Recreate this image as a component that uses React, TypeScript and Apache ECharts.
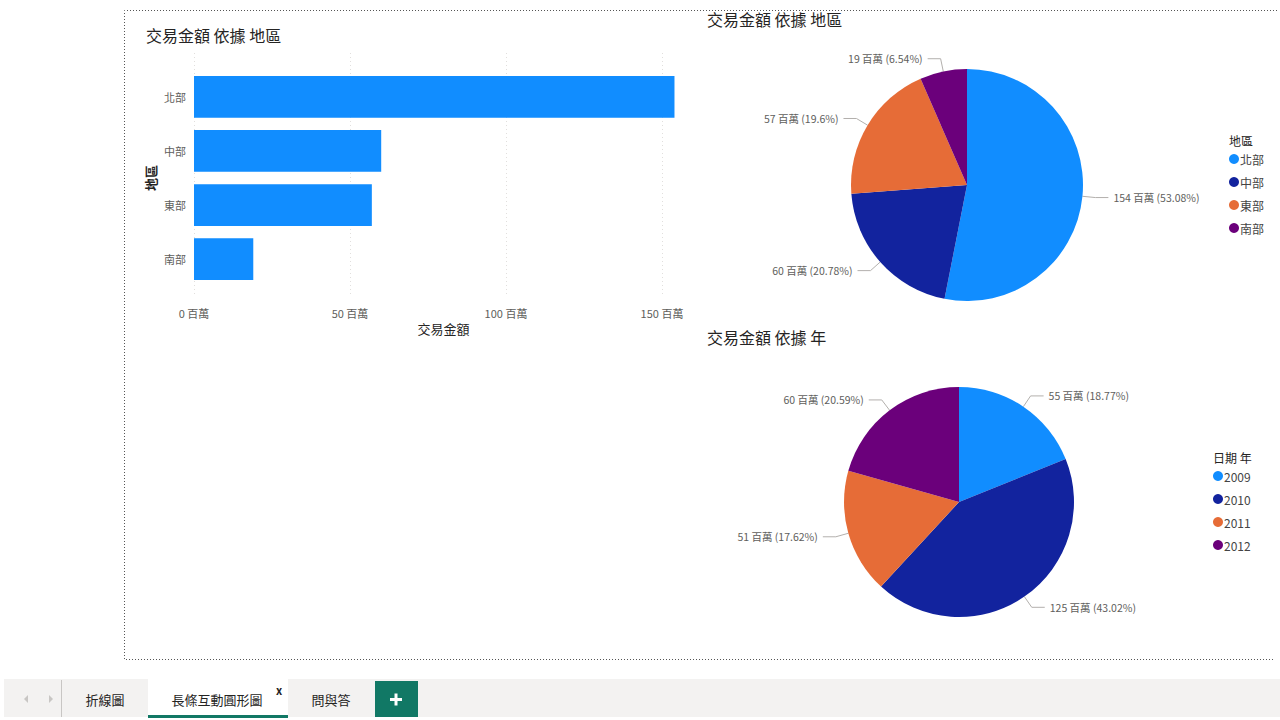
import React, { useEffect, useRef } from "react";
import * as echarts from "echarts";

const regions = ["北部", "中部", "東部", "南部"];
const regionAmounts = [154, 60, 57, 19];
const regionPercents = ["53.08", "20.78", "19.6", "6.54"];

const years = ["2009", "2010", "2011", "2012"];
const yearAmounts = [55, 125, 51, 60];
const yearPercents = ["18.77", "43.02", "17.62", "20.59"];

const xTicks = [0, 50, 100, 150];
const palette = ["#118DFF", "#12239E", "#E66C37", "#6B007B"];

const FONT = '"Noto Sans CJK TC", "Noto Sans", sans-serif';

export default function App() {
  const ref = useRef<HTMLDivElement>(null);
  useEffect(() => {
    if (!ref.current) return;
    const chart = echarts.init(ref.current, null, { renderer: "svg" });
    const pieLabel = (amounts: number[], pcts: string[]) => ({
      show: true,
      position: "outside",
      formatter: (p: any) => `${amounts[p.dataIndex]} 百萬 (${pcts[p.dataIndex]}%)`,
      fontSize: 10.5,
      color: "#605E5C",
      fontFamily: FONT,
    });
    const pieLabelLine = {
      show: true,
      length: 13,
      length2: 13,
      lineStyle: { color: "#B3B0AD", width: 1 },
    };
    const legendBase = {
      orient: "vertical",
      padding: 0,
      icon: "circle",
      itemWidth: 10,
      itemHeight: 10,
      itemGap: 11,
      textStyle: { fontSize: 12, color: "#444", fontFamily: FONT, padding: [0, 0, 0, -4] },
      selectedMode: false,
    };
    const option: any = {
      animation: false,
      color: palette,
      textStyle: { fontFamily: FONT },
      title: [
        {
          text: "交易金額 依據 地區",
          left: 146,
          top: 27,
          padding: 0,
          textStyle: { fontSize: 16, fontWeight: "normal", color: "#252423", fontFamily: FONT },
        },
        {
          text: "交易金額 依據 地區",
          left: 707,
          top: 11,
          padding: 0,
          textStyle: { fontSize: 16, fontWeight: "normal", color: "#252423", fontFamily: FONT },
        },
        {
          text: "交易金額 依據 年",
          left: 707,
          top: 329,
          padding: 0,
          textStyle: { fontSize: 16, fontWeight: "normal", color: "#252423", fontFamily: FONT },
        },
      ],
      grid: [
        { left: 194, top: 53, width: 499.2, height: 244, containLabel: false },
        { left: 194, top: 69.8, width: 499.2, height: 216.4, containLabel: false },
      ],
      xAxis: [
        {
          type: "value",
          gridIndex: 0,
          min: 0,
          max: 160,
          interval: 50,
          axisLine: { show: false },
          axisTick: { show: false },
          splitLine: {
            show: true,
            showMaxLine: false,
            lineStyle: { color: "#E1DFDD", type: [1, 3], width: 1 },
          },
          axisLabel: {
            showMaxLabel: false,
            margin: 10,
            fontSize: 11,
            color: "#605E5C",
            fontFamily: FONT,
            formatter: (v: number) => (xTicks.indexOf(v) >= 0 ? `${v} 百萬` : ""),
          },
          name: "交易金額",
          nameLocation: "middle",
          nameGap: 25,
          nameTextStyle: { fontSize: 13, color: "#252423", fontFamily: FONT },
        },
        {
          type: "value",
          gridIndex: 1,
          min: 0,
          max: 160,
          show: false,
        },
      ],
      yAxis: [
        { type: "value", gridIndex: 0, show: false },
        {
          type: "category",
          gridIndex: 1,
          data: regions,
          inverse: true,
          axisLine: { show: false },
          axisTick: { show: false },
          splitLine: { show: false },
          axisLabel: { margin: 8, fontSize: 11, color: "#605E5C", fontFamily: FONT },
          name: "地區",
          nameLocation: "middle",
          nameRotate: 90,
          nameGap: 37,
          nameTextStyle: { fontSize: 13, color: "#252423", fontWeight: "bold", fontFamily: FONT },
        },
      ],
      legend: [
        { ...legendBase, data: regions, left: 1229, top: 153 },
        { ...legendBase, data: years, left: 1213, top: 470 },
      ],
      series: [
        {
          type: "bar",
          xAxisIndex: 1,
          yAxisIndex: 1,
          data: regionAmounts,
          barCategoryGap: "23%",
          itemStyle: { color: "#118DFF" },
        },
        {
          type: "pie",
          center: [967, 185],
          radius: 116,
          startAngle: 90,
          clockwise: true,
          data: regions.map((r, i) => ({ name: r, value: regionAmounts[i] })),
          label: pieLabel(regionAmounts, regionPercents),
          labelLine: pieLabelLine,
          itemStyle: { borderWidth: 0 },
          emphasis: { disabled: true },
        },
        {
          type: "pie",
          center: [959, 502],
          radius: 115,
          startAngle: 90,
          clockwise: true,
          data: years.map((y, i) => ({ name: y, value: yearAmounts[i] })),
          label: pieLabel(yearAmounts, yearPercents),
          labelLine: pieLabelLine,
          itemStyle: { borderWidth: 0 },
          emphasis: { disabled: true },
        },
      ],
      graphic: [
        {
          type: "polyline",
          shape: { points: [[1277, 10.5], [124.5, 10.5], [124.5, 659.5], [1275, 659.5]] },
          style: { stroke: "#555", lineWidth: 1, lineDash: [1, 2], fill: null },
          silent: true,
        },
        {
          type: "text",
          x: 1229,
          y: 140,
          style: { text: "地區", fontSize: 12, fill: "#252423", fontFamily: FONT, verticalAlign: "middle" },
        },
        {
          type: "text",
          x: 1213,
          y: 457,
          style: { text: "日期 年", fontSize: 12, fill: "#252423", fontFamily: FONT, verticalAlign: "middle" },
        },
        // tab bar
        { type: "rect", shape: { x: 4, y: 679, width: 1276, height: 38 }, style: { fill: "#F3F2F1" }, silent: true },
        { type: "line", shape: { x1: 61.5, y1: 680, x2: 61.5, y2: 717 }, style: { stroke: "#C8C6C4", lineWidth: 1 } },
        { type: "polygon", shape: { points: [[28, 695], [28, 703], [24, 699]] }, style: { fill: "#C8C6C4" } },
        { type: "polygon", shape: { points: [[49, 695], [49, 703], [53, 699]] }, style: { fill: "#C8C6C4" } },
        {
          type: "text",
          x: 105,
          y: 699,
          style: { text: "折線圖", fontSize: 13, fill: "#252423", fontFamily: FONT, align: "center", verticalAlign: "middle" },
        },
        { type: "rect", shape: { x: 148, y: 679, width: 140, height: 38 }, style: { fill: "#FFFFFF" } },
        { type: "rect", shape: { x: 148, y: 715, width: 140, height: 3 }, style: { fill: "#117865" } },
        {
          type: "text",
          x: 217,
          y: 699,
          style: { text: "長條互動圓形圖", fontSize: 13, fill: "#252423", fontFamily: FONT, align: "center", verticalAlign: "middle" },
        },
        {
          type: "text",
          x: 279,
          y: 690,
          style: { text: "x", fontSize: 11, fontWeight: "bold", fill: "#252423", fontFamily: FONT, align: "center", verticalAlign: "middle" },
        },
        {
          type: "text",
          x: 331,
          y: 699,
          style: { text: "問與答", fontSize: 13, fill: "#252423", fontFamily: FONT, align: "center", verticalAlign: "middle" },
        },
        { type: "rect", shape: { x: 375, y: 681, width: 43, height: 36 }, style: { fill: "#117865" } },
        { type: "rect", shape: { x: 390, y: 698, width: 12, height: 3 }, style: { fill: "#FFFFFF" } },
        { type: "rect", shape: { x: 394.5, y: 693.5, width: 3, height: 12 }, style: { fill: "#FFFFFF" } },
      ],
    };
    chart.setOption(option);
    return () => chart.dispose();
  }, []);
  return (
    <div
      ref={ref}
      style={{ position: "fixed", left: 0, top: 0, width: 1280, height: 720, background: "#fff" }}
    />
  );
}
